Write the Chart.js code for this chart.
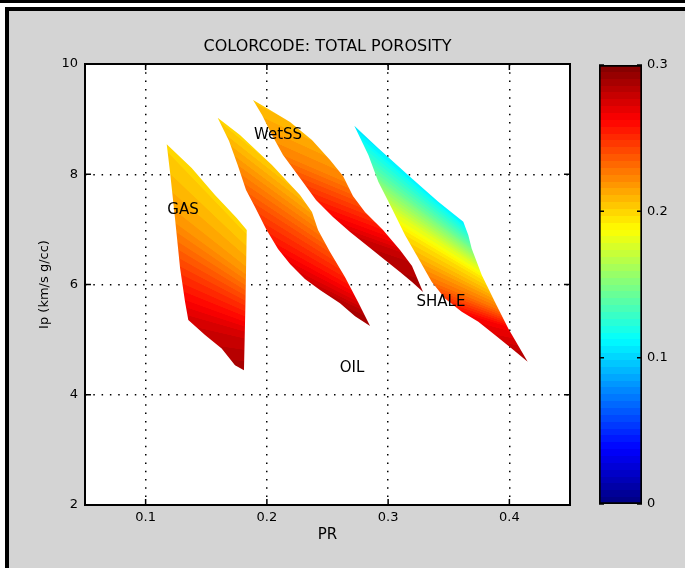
<!DOCTYPE html>
<html>
<head>
<meta charset="utf-8">
<script src="https://cdn.jsdelivr.net/npm/chart.js@4.4.0/dist/chart.umd.min.js"></script>
<style>
  html, body { margin: 0; padding: 0; background: #fff; }
  body { width: 685px; height: 568px; position: relative; overflow: hidden; }
  #topbar { position: absolute; left: 0; top: 0; width: 685px; height: 3px; background: #000; }
  #frame { position: absolute; left: 5px; top: 7px; width: 700px; height: 600px; border: 4px solid #000; background: #d4d4d4; }
  #main { position: absolute; left: 0; top: 0; }
  #cbar { position: absolute; left: 590px; top: 50px; }
</style>
</head>
<body>
<div id="topbar"></div>
<div id="frame"></div>
<canvas id="main" width="685" height="568"></canvas>
<canvas id="cbar" width="95" height="470"></canvas>
<script>
// axes
const prTicks = [0.1, 0.2, 0.3, 0.4];
const prTickLabels = ['0.1', '0.2', '0.3', '0.4'];
const ipTicks = [2, 4, 6, 8, 10];
const ipTickLabels = ['2', '4', '6', '8', '10'];
const cbarTicks = [0, 0.1, 0.2, 0.3];
const cbarTickLabels = ['0', '0.1', '0.2', '0.3'];
const porosityRange = [0, 0.3];

// outlines of the four zones (PR, Ip)
const gasPR = [0.1174, 0.1380, 0.1572, 0.1751, 0.1834, 0.1824, 0.1811, 0.1737, 0.1627, 0.1490, 0.1352, 0.1325, 0.1284, 0.1242, 0.1201];
const gasIp = [8.543, 8.113, 7.623, 7.205, 6.987, 5.717, 4.446, 4.537, 4.840, 5.082, 5.354, 5.686, 6.298, 7.205, 8.045];

const oilPR = [0.1594, 0.1778, 0.2042, 0.2273, 0.2372, 0.2422, 0.2521, 0.2644, 0.2752, 0.2851,
               0.2727, 0.2603, 0.2438, 0.2314, 0.2191, 0.2092, 0.1993, 0.1902, 0.1828, 0.1762, 0.1688];
const oilIp = [9.025, 8.711, 8.167, 7.622, 7.314, 6.987, 6.588, 6.134, 5.681, 5.245,
               5.426, 5.662, 5.898, 6.098, 6.370, 6.642, 7.005, 7.405, 7.713, 8.149, 8.603];

const wetPR = [0.1886, 0.2026, 0.2191, 0.2372, 0.2521, 0.2628, 0.2710, 0.2809, 0.2958, 0.3098, 0.3197, 0.3288,
               0.3197, 0.3098, 0.2974, 0.2851, 0.2686, 0.2545, 0.2405, 0.2273, 0.2133, 0.2042, 0.1960];
const wetIp = [9.347, 9.165, 8.947, 8.621, 8.258, 7.967, 7.604, 7.314, 6.987, 6.624, 6.334, 5.862,
               6.044, 6.225, 6.443, 6.661, 6.951, 7.223, 7.532, 7.931, 8.348, 8.711, 9.074];

const shalePR = [0.2721, 0.2919, 0.3194, 0.3414, 0.3620, 0.3661, 0.3689, 0.3772, 0.3881, 0.3991, 0.4151,
                 0.4019, 0.3881, 0.3744, 0.3607, 0.3469, 0.3359, 0.3249, 0.3139, 0.3030, 0.2919, 0.2837];
const shaleIp = [8.880, 8.470, 7.926, 7.501, 7.138, 6.897, 6.655, 6.171, 5.681, 5.203, 4.597,
                 4.840, 5.082, 5.323, 5.504, 5.748, 6.049, 6.474, 6.897, 7.381, 7.864, 8.348];

// porosity read at points inside each zone; iso lines fan out from a pivot
const gasPivot = [0.290, 4.465];
const gasIsoPR = [0.1174, 0.1242, 0.1284, 0.1352, 0.1811];
const gasIsoIp = [8.543, 7.205, 6.298, 5.354, 4.446];
const gasIsoPhi = [0.200, 0.218, 0.245, 0.275, 0.290];

const oilPivot = [0.4558, 3.684];
const oilIsoPR = [0.1594, 0.1762, 0.1902, 0.2092, 0.2314, 0.2603, 0.2851];
const oilIsoIp = [9.025, 8.167, 7.441, 6.661, 6.116, 5.681, 5.245];
const oilIsoPhi = [0.200, 0.220, 0.240, 0.260, 0.275, 0.285, 0.290];

const wetPivot = [0.8046, 2.740];
const wetIsoPR = [0.1886, 0.2174, 0.2422, 0.2644, 0.2916, 0.3288];
const wetIsoIp = [9.347, 8.312, 7.586, 7.114, 6.679, 5.862];
const wetIsoPhi = [0.205, 0.225, 0.250, 0.265, 0.280, 0.290];

const shalePivot = [0.497, 4.574];
const shaleIsoPR = [0.2721, 0.3030, 0.3123, 0.3359, 0.3634, 0.4151];
const shaleIsoIp = [8.880, 7.381, 6.951, 6.044, 5.445, 4.597];
const shaleIsoPhi = [0.105, 0.175, 0.195, 0.230, 0.265, 0.290];

// text in the plot
const zoneNames = ['GAS', 'WetSS', 'SHALE', 'OIL'];
const zoneLabelPR = [0.1308, 0.2092, 0.3436, 0.2702];
const zoneLabelIp = [7.350, 8.711, 5.681, 4.483];

const FONT = '"DejaVu Sans", sans-serif';

const regions = [
  { name: 'GAS', pr: gasPR, ip: gasIp, pivot: gasPivot, isoPR: gasIsoPR, isoIp: gasIsoIp, isoPhi: gasIsoPhi },
  { name: 'OIL', pr: oilPR, ip: oilIp, pivot: oilPivot, isoPR: oilIsoPR, isoIp: oilIsoIp, isoPhi: oilIsoPhi },
  { name: 'WetSS', pr: wetPR, ip: wetIp, pivot: wetPivot, isoPR: wetIsoPR, isoIp: wetIsoIp, isoPhi: wetIsoPhi },
  { name: 'SHALE', pr: shalePR, ip: shaleIp, pivot: shalePivot, isoPR: shaleIsoPR, isoIp: shaleIsoIp, isoPhi: shaleIsoPhi }
];

// matlab style jet, 64 steps
function jet(phi) {
  let t = (phi - porosityRange[0]) / (porosityRange[1] - porosityRange[0]);
  t = Math.min(Math.max(t, 0), 1);
  const k = Math.min(Math.floor(t * 64), 63);
  t = (k + 0.5) / 64;
  const c = v => Math.round(255 * Math.min(Math.max(v, 0), 1));
  return 'rgb(' + c(Math.min(4 * t - 1.5, -4 * t + 4.5)) + ',' +
    c(Math.min(4 * t - 0.5, -4 * t + 3.5)) + ',' +
    c(Math.min(4 * t + 0.5, -4 * t + 2.5)) + ')';
}

function interp(pts, d) {
  if (d <= pts[0][0]) return pts[0][1];
  for (let i = 1; i < pts.length; i++) {
    if (d <= pts[i][0]) {
      const f = (d - pts[i - 1][0]) / (pts[i][0] - pts[i - 1][0]);
      return pts[i - 1][1] + f * (pts[i][1] - pts[i - 1][1]);
    }
  }
  return pts[pts.length - 1][1];
}

function porosityFill(chart, r) {
  const {ctx, chartArea, scales} = chart;
  if (!chartArea || !ctx.createConicGradient) return jet(r.isoPhi[Math.floor(r.isoPhi.length / 2)]);
  const x = scales.x, y = scales.y;
  const cx = x.getPixelForValue(r.pivot[0]);
  const cy = y.getPixelForValue(r.pivot[1]);
  const ang = r.isoPR.map((p, i) => Math.atan2(y.getPixelForValue(r.isoIp[i]) - cy, x.getPixelForValue(p) - cx));
  const a0 = ang[0];
  const rel = ang.map(a => {
    let d = a - a0;
    while (d > Math.PI) d -= 2 * Math.PI;
    while (d < -Math.PI) d += 2 * Math.PI;
    return d;
  });
  const pts = rel.map((d, i) => [d, r.isoPhi[i]]).sort((a, b) => a[0] - b[0]);
  const lo = pts[0][0], hi = pts[pts.length - 1][0];
  const margin = 0.6;
  const g = ctx.createConicGradient(a0 + lo - margin, cx, cy);
  const n = 300;
  for (let k = 0; k <= n; k++) {
    const d = lo + (hi - lo) * k / n;
    g.addColorStop((d - lo + margin) / (2 * Math.PI), jet(interp(pts, d)));
  }
  return g;
}

const plotBackground = {
  id: 'plotBackground',
  beforeDraw(chart) {
    const {ctx, chartArea: a} = chart;
    ctx.save();
    ctx.fillStyle = '#fff';
    ctx.fillRect(a.left, a.top, a.width, a.height);
    ctx.restore();
  }
};

const zoneText = {
  id: 'zoneText',
  afterDatasetsDraw(chart) {
    const {ctx, scales: {x, y}} = chart;
    ctx.save();
    ctx.font = '15px ' + FONT;
    ctx.fillStyle = '#000';
    ctx.textAlign = 'center';
    ctx.textBaseline = 'middle';
    zoneNames.forEach((t, i) => {
      ctx.fillText(t, x.getPixelForValue(zoneLabelPR[i]), y.getPixelForValue(zoneLabelIp[i]));
    });
    ctx.restore();
  }
};

const boxTicks = {
  id: 'boxTicks',
  afterDraw(chart) {
    const {ctx, chartArea: a, scales: {x, y}} = chart;
    ctx.save();
    ctx.strokeStyle = '#000';
    ctx.lineWidth = 1.5;
    ctx.beginPath();
    prTicks.forEach(v => {
      const px = x.getPixelForValue(v);
      ctx.moveTo(px, a.bottom); ctx.lineTo(px, a.bottom - 6);
      ctx.moveTo(px, a.top); ctx.lineTo(px, a.top + 6);
    });
    ipTicks.forEach(v => {
      const py = y.getPixelForValue(v);
      ctx.moveTo(a.left, py); ctx.lineTo(a.left + 6, py);
      ctx.moveTo(a.right, py); ctx.lineTo(a.right - 6, py);
    });
    ctx.stroke();
    ctx.lineWidth = 2;
    ctx.strokeRect(a.left, a.top, a.width, a.height);
    ctx.restore();
  }
};

new Chart(document.getElementById('main'), {
  type: 'line',
  data: {
    datasets: regions.map(r => ({
      label: r.name,
      data: r.pr.map((v, i) => ({x: v, y: r.ip[i]})),
      fill: 'shape',
      tension: 0,
      borderWidth: 0,
      borderColor: 'rgba(0,0,0,0)',
      pointRadius: 0,
      pointHoverRadius: 0,
      backgroundColor: c => porosityFill(c.chart, r)
    }))
  },
  options: {
    responsive: false,
    animation: false,
    events: [],
    layout: {padding: {left: 30, right: 115, top: 10, bottom: 0}},
    plugins: {
      legend: {display: false},
      tooltip: {enabled: false},
      title: {
        display: true,
        fullSize: false,
        text: 'COLORCODE: TOTAL POROSITY',
        color: '#000',
        font: {family: FONT, size: 16, weight: 'normal'},
        padding: {top: 27.4, bottom: 7.4}
      }
    },
    scales: {
      x: {
        type: 'linear',
        min: 0.05,
        max: 0.45,
        afterBuildTicks: s => { s.ticks = prTicks.map(v => ({value: v})); },
        afterFit: s => { s.height = 63; },
        ticks: {color: '#000', font: {family: FONT, size: 13}, padding: 5, maxRotation: 0,
                callback: (v, i) => prTickLabels[i]},
        grid: {color: '#000', lineWidth: 1.5, drawTicks: false},
        border: {display: false, dash: [1.5, 6.8]},
        title: {display: true, text: 'PR', color: '#000', font: {family: FONT, size: 15},
                padding: {top: 0, bottom: 24}}
      },
      y: {
        type: 'linear',
        min: 2,
        max: 10,
        afterBuildTicks: s => { s.ticks = ipTicks.map(v => ({value: v})); },
        afterFit: s => { s.width = 55; },
        ticks: {color: '#000', font: {family: FONT, size: 13}, padding: 7,
                callback: (v, i) => ipTickLabels[i]},
        grid: {color: '#000', lineWidth: 1.5, drawTicks: false},
        border: {display: false, dash: [1.5, 6.8]},
        title: {display: true, text: 'Ip (km/s g/cc)', color: '#000', font: {family: FONT, size: 13},
                padding: {top: 7, bottom: 0}}
      }
    }
  },
  plugins: [plotBackground, zoneText, boxTicks]
});

// colour bar
function jetBar(chart) {
  const {ctx, chartArea, scales} = chart;
  if (!chartArea) return null;
  const y = scales.y;
  const g = ctx.createLinearGradient(0, y.getPixelForValue(porosityRange[0]), 0, y.getPixelForValue(porosityRange[1]));
  const span = porosityRange[1] - porosityRange[0];
  for (let k = 0; k < 64; k++) {
    const c = jet(porosityRange[0] + span * (k + 0.5) / 64);
    g.addColorStop(k / 64, c);
    g.addColorStop((k + 1) / 64, c);
  }
  return g;
}

const cbarTickMarks = {
  id: 'cbarTickMarks',
  afterDraw(chart) {
    const {ctx, chartArea: a, scales: {y}} = chart;
    ctx.save();
    ctx.strokeStyle = '#000';
    ctx.lineWidth = 1.5;
    ctx.beginPath();
    cbarTicks.forEach(v => {
      const py = y.getPixelForValue(v);
      ctx.moveTo(a.left, py); ctx.lineTo(a.left + 5, py);
      ctx.moveTo(a.right, py); ctx.lineTo(a.right - 5, py);
    });
    ctx.stroke();
    ctx.restore();
  }
};

new Chart(document.getElementById('cbar'), {
  type: 'bar',
  data: {
    labels: [''],
    datasets: [{
      data: [[porosityRange[0], porosityRange[1]]],
      backgroundColor: c => jetBar(c.chart),
      borderColor: '#000',
      borderWidth: 2,
      borderSkipped: false,
      barPercentage: 1,
      categoryPercentage: 1
    }]
  },
  options: {
    responsive: false,
    animation: false,
    events: [],
    layout: {padding: {left: 9, right: 0, top: 15, bottom: 16}},
    plugins: {legend: {display: false}, tooltip: {enabled: false}},
    scales: {
      x: {display: false},
      y: {
        position: 'right',
        min: porosityRange[0],
        max: porosityRange[1],
        afterBuildTicks: s => { s.ticks = cbarTicks.map(v => ({value: v})); },
        afterFit: s => { s.width = 43; },
        ticks: {color: '#000', font: {family: FONT, size: 13}, padding: 5,
                callback: (v, i) => cbarTickLabels[i]},
        grid: {display: false, drawTicks: false},
        border: {display: false}
      }
    }
  },
  plugins: [cbarTickMarks]
});
</script>
</body>
</html>
